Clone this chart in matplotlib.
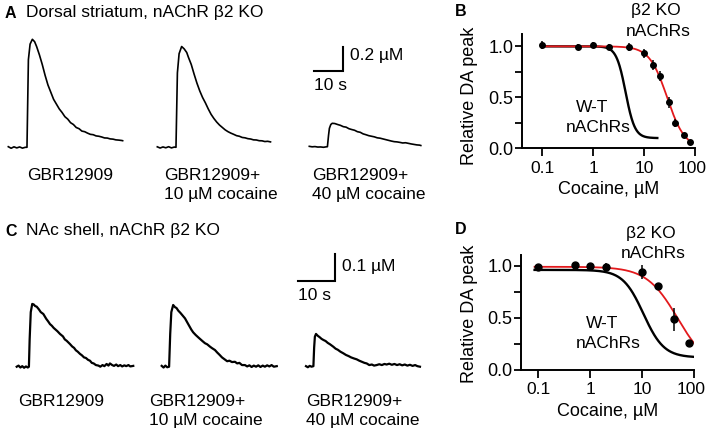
import numpy as np
import matplotlib
matplotlib.use("Agg")
import matplotlib.pyplot as plt
import matplotlib.transforms as mtransforms
from matplotlib.ticker import LogLocator, FixedLocator, NullFormatter, FixedFormatter

plt.rcParams['font.family'] = ['Liberation Sans', 'DejaVu Sans']

W, H = 708, 432

# ---- amperometric traces: (time s, DA uM) ----
trace_a1 = np.array([
    (0, 0.005), (1, -0.008), (2, 0.004), (3, -0.005), (4, 0.003), (5, -0.007), (6, 0.0),
    (6.6, 0.0), (7.1, 0.73), (7.7, 0.86), (8.5, 0.90), (9.3, 0.88),
    (10, 0.84), (11, 0.77), (12, 0.69), (13, 0.60), (14, 0.52), (15, 0.46), (16, 0.40),
    (17, 0.36), (18, 0.32), (19, 0.29), (20, 0.255), (21, 0.235), (22, 0.205), (23, 0.19),
    (24, 0.165), (25, 0.155), (26, 0.135), (27, 0.13), (28, 0.118), (29, 0.108), (30, 0.105),
    (31, 0.095), (32, 0.092), (33, 0.086), (34, 0.078), (35, 0.077), (36, 0.07), (37, 0.068),
    (38, 0.062), (39, 0.06), (40, 0.057), (40.4, 0.055)])
trace_a2 = np.array([
    (0, 0.004), (1, -0.006), (2, 0.003), (3, -0.004), (4, 0.005), (5, -0.005), (6, 0.002),
    (6.6, 0.0), (7.1, 0.62), (7.7, 0.78), (8.6, 0.84), (9.5, 0.82), (10.4, 0.79), (11, 0.75),
    (12, 0.69), (13, 0.61), (14, 0.535), (15, 0.47), (16, 0.415), (17, 0.37), (18, 0.32),
    (19, 0.275), (20, 0.24), (21, 0.21), (22, 0.185), (23, 0.165), (24, 0.145), (25, 0.13),
    (26, 0.118), (27, 0.108), (28, 0.097), (29, 0.092), (30, 0.082), (31, 0.079), (32, 0.072),
    (33, 0.069), (34, 0.062), (35, 0.061), (36, 0.055), (37, 0.054), (38, 0.048), (39, 0.05),
    (40, 0.045)])
trace_a3 = np.array([
    (0, 0.008), (1, 0.004), (2, 0.006), (3, 0.002), (4, 0.003), (5, 0.0), (6, 0.004),
    (6.4, 0.005), (6.8, 0.1), (7.1, 0.158), (7.6, 0.19), (8.1, 0.2), (9, 0.198), (10, 0.19),
    (11, 0.183), (12, 0.172), (13, 0.168), (14, 0.155), (15, 0.148), (16, 0.142), (17, 0.13),
    (18, 0.125), (19, 0.112), (20, 0.105), (21, 0.097), (22, 0.092), (23, 0.087), (24, 0.079),
    (25, 0.076), (26, 0.07), (27, 0.064), (28, 0.058), (29, 0.052), (30, 0.047), (31, 0.045),
    (32, 0.041), (33, 0.036), (34, 0.038), (35, 0.033), (36, 0.028), (37, 0.024), (38, 0.02),
    (39, 0.018), (39.4, 0.015)])

trace_c1 = np.array([
    (0, 0.0), (0.5, 0.004), (1, -0.003), (1.5, 0.002), (2, -0.004), (2.5, 0.001), (3, -0.003),
    (3.3, 0.0), (3.5, 0.1), (3.8, 0.2), (4.2, 0.23), (4.6, 0.228), (5, 0.222), (5.4, 0.22),
    (6, 0.21), (6.5, 0.2), (7.2, 0.193), (8, 0.175), (8.5, 0.166), (9, 0.156), (9.5, 0.15),
    (10, 0.142), (10.5, 0.136), (11, 0.13), (11.7, 0.12), (12.5, 0.111), (13, 0.1), (13.5, 0.095),
    (14.4, 0.083), (15, 0.074), (15.5, 0.069), (16, 0.06), (16.5, 0.055), (17.1, 0.047),
    (17.6, 0.042), (18.2, 0.034), (18.7, 0.032), (19.3, 0.025), (19.8, 0.022), (20.3, 0.014),
    (20.8, 0.012), (21.4, 0.006), (22.1, 0.004), (22.6, 0.0), (23.2, 0.006), (23.7, 0.002),
    (24.3, 0.01), (24.8, 0.004), (25.2, 0.012), (25.8, 0.006), (26.3, 0.003), (26.9, 0.008),
    (27.4, 0.002), (28, 0.006), (28.5, 0.001), (29.1, 0.005), (29.6, 0.002), (30.2, 0.006),
    (30.7, 0.001), (31.5, 0.003)])
trace_c2 = np.array([
    (0, 0.003), (0.5, -0.003), (1, 0.004), (1.5, -0.002), (2, 0.0), (2.3, 0.12), (2.6, 0.2),
    (3.1, 0.226), (3.6, 0.218), (4.0, 0.215), (4.5, 0.205), (5, 0.198), (5.5, 0.19), (6.3, 0.177),
    (7, 0.16), (7.5, 0.148), (8, 0.136), (8.5, 0.126), (9.2, 0.116), (10, 0.106), (10.5, 0.1),
    (11, 0.094), (11.7, 0.086), (12.3, 0.082), (13, 0.074), (13.6, 0.068), (14.4, 0.061),
    (15, 0.052), (15.6, 0.044), (16.3, 0.034), (17.1, 0.026), (17.7, 0.02), (18.3, 0.022),
    (19, 0.017), (19.8, 0.018), (20.4, 0.012), (21, 0.014), (21.7, 0.006), (22.5, 0.006),
    (23.1, 0.001), (23.7, 0.005), (24.3, -0.001), (24.9, 0.004), (25.5, 0.0), (26.1, 0.005),
    (26.7, -0.001), (27.3, 0.004), (27.9, 0.0), (28.5, 0.005), (29.1, 0.001), (29.7, 0.006),
    (30.3, 0.0), (31.1, 0.002)])
trace_c3 = np.array([
    (0, 0.002), (0.5, -0.002), (1, 0.003), (1.5, 0.0), (2, 0.002), (2.2, 0.07), (2.4, 0.11),
    (2.7, 0.12), (3.2, 0.113), (3.7, 0.108), (4.2, 0.102), (4.7, 0.098), (5.3, 0.094),
    (5.9, 0.087), (6.5, 0.082), (7.4, 0.073), (8, 0.066), (8.6, 0.062), (9.3, 0.055),
    (10.1, 0.049), (10.8, 0.043), (11.5, 0.039), (12.2, 0.034), (13, 0.03), (13.7, 0.027),
    (14.4, 0.022), (15.1, 0.018), (15.8, 0.014), (16.4, 0.012), (17.1, 0.006), (17.8, 0.008),
    (18.4, 0.004), (19.1, 0.006), (19.8, 0.009), (20.5, 0.006), (21.2, 0.01), (21.8, 0.008),
    (22.5, 0.011), (23.2, 0.007), (23.9, 0.01), (24.6, 0.006), (25.3, 0.009), (26, 0.005),
    (26.7, 0.008), (27.4, 0.004), (28.1, 0.007), (28.8, 0.003), (29.5, 0.006), (30.1, 0.002),
    (30.8, 0.0)])

trace_labels = [["GBR12909"], ["GBR12909+", "10 \u00b5M cocaine"], ["GBR12909+", "40 \u00b5M cocaine"]]

# ---- dose-response (panel B, dorsal striatum) ----
b_conc = [0.1, 0.5, 1, 2, 5, 10, 15, 20, 30, 40, 60, 80]
b_ko = [1.01, 0.995, 1.01, 0.995, 0.995, 0.93, 0.82, 0.71, 0.45, 0.25, 0.13, 0.065]
b_err = [0.04, 0.03, 0.03, 0.03, 0.04, 0.04, 0.05, 0.05, 0.05, 0.04, 0.02, 0.02]
# Hill fits: (IC50, slope, top, bottom, xmin, xmax)
b_fit_ko = (28.0, 2.5, 1.0, 0.0, 0.1, 80)
b_fit_wt = (4.3, 4.8, 1.0, 0.1, 0.1, 18)

# ---- dose-response (panel D, NAc shell) ----
d_conc = [0.1, 0.5, 1, 2, 10, 20, 40, 80]
d_ko = [0.99, 1.01, 1.0, 0.99, 0.94, 0.805, 0.485, 0.255]
d_err = [0.01, 0.01, 0.01, 0.04, 0.07, 0.02, 0.11, 0.02]
d_fit_ko = (48.0, 1.45, 0.99, 0.0, 0.085, 100)
d_fit_wt = (10.5, 2.2, 0.96, 0.12, 0.085, 100)

fig = plt.figure(figsize=(W / 100, H / 100), dpi=100)


def rect(l, t, r, b):
    return [l / W, 1 - b / H, (r - l) / W, (b - t) / H]


def fx(x):
    return x / W


def fy(y):
    return 1 - y / H


FS = 12.5


def trace_panel(box, px_per_s, px_per_um, base_px, traces, starts_px, bar_corner, bar_um,
                label_x, label_y, letter, title, title_y, lw):
    l, t, r, b = box
    ax = fig.add_axes(rect(l, t, r, b))
    ax.set_xlim(0, (r - l) / px_per_s)
    ax.set_ylim((base_px - b) / px_per_um, (base_px - t) / px_per_um)
    ax.axis('off')
    for tr, sx in zip(traces, starts_px):
        ax.plot(tr[:, 0] + sx / px_per_s, tr[:, 1], color='black', lw=lw)
    cx, cy = bar_corner
    bx = cx / px_per_s
    by = (base_px - cy) / px_per_um
    ax.plot([bx - 10, bx, bx], [by, by, by + bar_um], color='black', lw=1.5,
            solid_joinstyle='miter')
    fig.text(fx(cx + 7), fy(cy - 15), "%g \u00b5M" % bar_um, fontsize=FS, va='center',
             ha='left')
    fig.text(fx(cx - 10 * px_per_s), fy(cy + 15), "10 s", fontsize=FS, va='center', ha='left')
    for lab, lx in zip(trace_labels, label_x):
        for i, line in enumerate(lab):
            fig.text(fx(lx), fy(label_y + i * 20), line, fontsize=FS, va='center', ha='left')
    fig.text(fx(5), fy(title_y), letter, fontsize=11.5, fontweight='bold', va='center')
    fig.text(fx(26), fy(title_y), title, fontsize=FS, va='center')
    return ax


trace_panel((0, 25, 450, 165), 2.83, 120, 147.3, [trace_a1, trace_a2, trace_a3],
            [8.3, 157.3, 309.3], (342.5, 70.5), 0.2, [26.7, 164, 312.3], 175,
            "A", "Dorsal striatum, nAChR \u03b22 KO", 13, 1.2)
trace_panel((0, 245, 450, 385), 3.7, 273, 366.7, [trace_c1, trace_c2, trace_c3],
            [16.7, 161.7, 306], (335, 281), 0.1, [18.3, 149, 305.7], 401,
            "C", "NAc shell, nAChR \u03b22 KO", 231, 1.6)


def hill(x, p):
    ic50, n, top, bottom = p[:4]
    return bottom + (top - bottom) / (1 + (x / ic50) ** n)


def dose_panel(box, xlo, ytop, conc, ko, err, fit_ko, fit_wt, msize, letter, letter_xy,
               ko_xy, wt_xy, xlabel_y, ylabel_y):
    l, t, r, b = box
    ax = fig.add_axes(rect(*box))
    ax.set_xscale('log')
    ax.set_xlim(xlo, 100)
    ax.set_ylim(0, ytop)
    for fit, col, lw in [(fit_wt, 'black', 1.7), (fit_ko, '#e3191c', 1.3)]:
        xs = np.logspace(np.log10(fit[4]), np.log10(fit[5]), 300)
        ax.plot(xs, hill(xs, fit), color=col, lw=lw, zorder=2)
    ax.errorbar(conc, ko, yerr=err, fmt='o', color='black', ms=msize, elinewidth=1.1,
                capsize=0, zorder=3)
    for s in ['top', 'right']:
        ax.spines[s].set_visible(False)
    for s in ['left', 'bottom']:
        ax.spines[s].set_linewidth(1.4)
    ax.xaxis.set_major_locator(FixedLocator([0.1, 1, 10, 100]))
    ax.xaxis.set_major_formatter(FixedFormatter(['0.1', '1', '10', '100']))
    ax.xaxis.set_minor_locator(LogLocator(base=10, subs=np.arange(2, 10)))
    ax.xaxis.set_minor_formatter(NullFormatter())
    ax.yaxis.set_major_locator(FixedLocator([0, 0.25, 0.5, 0.75, 1.0]))
    ax.yaxis.set_major_formatter(FixedFormatter(['0.0', '', '0.5', '', '1.0']))
    ax.tick_params(axis='x', which='major', direction='out', length=6, width=1.3, pad=3,
                   labelsize=12.5)
    ax.tick_params(axis='x', which='minor', direction='out', length=3.5, width=1.0)
    ax.tick_params(axis='y', which='major', direction='out', length=5, width=1.3, pad=1,
                   labelsize=13)
    # nudge the "100" label so it stays inside the figure edge
    last = ax.xaxis.get_major_ticks()[-1].label1
    last.set_transform(last.get_transform() +
                       mtransforms.ScaledTranslation(-3 / 100, 0, fig.dpi_scale_trans))
    ax.set_ylabel("Relative DA peak", fontsize=FS + 0.5, va='center')
    ax.set_xlabel("Cocaine, \u00b5M", fontsize=FS + 0.5, va='center')
    ax.xaxis.set_label_coords(0.5, -(xlabel_y - b) / (b - t))
    ax.yaxis.set_label_coords(-(l - 470) / (r - l), (b - ylabel_y) / (b - t))
    fig.text(fx(letter_xy[0]), fy(letter_xy[1]), letter, fontsize=11.5, fontweight='bold',
             va='center')
    fig.text(fx(ko_xy[0]), fy(ko_xy[1]), "\u03b22 KO", fontsize=FS, ha='center', va='center')
    fig.text(fx(ko_xy[0] + 2), fy(ko_xy[1] + 20), "nAChRs", fontsize=FS, ha='center',
             va='center')
    fig.text(fx(wt_xy[0]), fy(wt_xy[1]), "W-T", fontsize=FS, ha='center', va='center')
    fig.text(fx(wt_xy[0] + 6), fy(wt_xy[1] + 20), "nAChRs", fontsize=FS, ha='center',
             va='center')
    return ax


dose_panel((521.7, 34.1, 695.3, 148.3), 0.0395, 1.12, b_conc, b_ko, b_err,
           b_fit_ko, b_fit_wt, 4.0, "B", (455, 12), (656, 11), (592, 108), 190, 96)
dose_panel((520.7, 255.3, 694.3, 370), 0.046, 1.1, d_conc, d_ko, d_err,
           d_fit_ko, d_fit_wt, 5.0, "D", (455, 230), (651, 234), (602, 324), 411, 313.5)

fig.savefig("out.png", dpi=100)
